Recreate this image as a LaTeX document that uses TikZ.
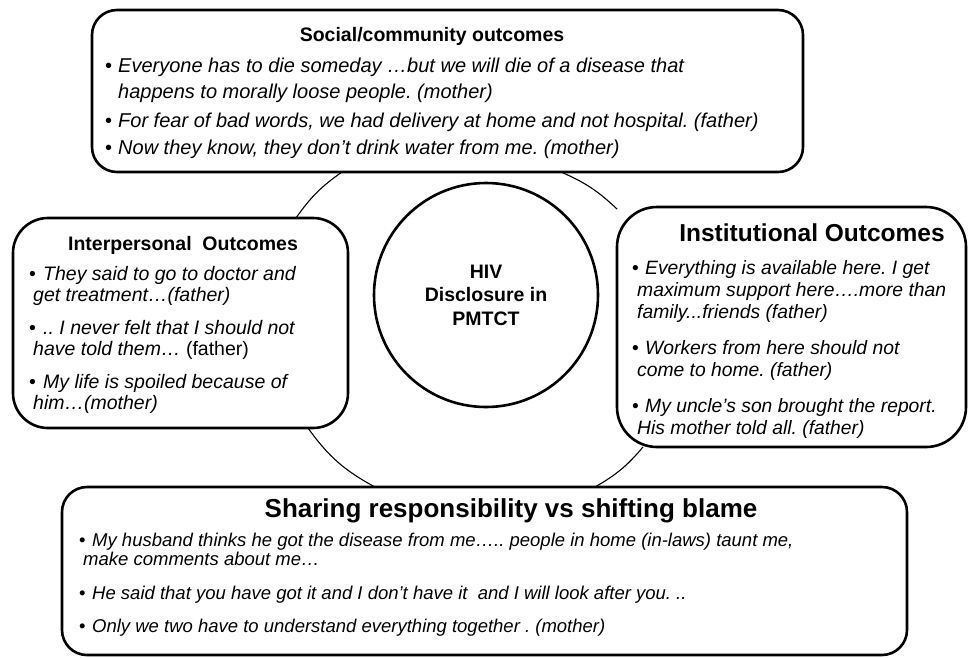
\documentclass[tikz,border=0pt]{standalone}
\usepackage{fontspec}
\setmainfont{Liberation Sans}
\frenchspacing
\begin{document}
\begin{tikzpicture}[x=1pt,y=-1pt,
  box/.style={draw=black, line width=2.6pt, rounded corners=#1, fill=white, inner sep=0pt},
  hub/.style={draw=black, circle, line width=2.6pt, minimum size=224pt, inner sep=0pt, fill=white},
  link/.style={draw=black, line width=1.1pt},
  head/.style={inner sep=0pt, anchor=base, font=\bfseries\fontsize{#1}{#1}\selectfont},
  body/.style={inner sep=0pt, anchor=north west, align=left},
]
\useasboundingbox[fill=white] (0,0) rectangle (968,657);

% theme boxes and the central hub
\node[box=25pt, minimum width=711pt, minimum height=162pt] (social) at (447.5,91) {};
\node[box=35pt, minimum width=335pt, minimum height=210pt] (inter) at (180.5,323) {};
\node[box=40pt, minimum width=349pt, minimum height=240pt] (inst) at (791.5,327) {};
\node[box=25pt, minimum width=845pt, minimum height=168pt] (share) at (484.5,571) {};
\node[hub] (hiv) at (486,295) {};

% arcs of the ring joining the boxes
\coordinate (tlA) at (342,172);
\coordinate (tlB) at (296,218);
\coordinate (trA) at (561,172);
\coordinate (trB) at (617,209);
\coordinate (blA) at (308,428);
\coordinate (blB) at (375,487);
\coordinate (brA) at (643,447);
\coordinate (brB) at (595,487);
\draw[link] (tlA) to[bend right=10] (tlB);
\draw[link] (trA) to[bend left=10] (trB);
\draw[link] (blA) to[bend right=13] (blB);
\draw[link] (brA) to[bend left=10] (brB);

% hub label
\node[inner sep=0pt, align=center, font=\bfseries\fontsize{19.5}{23.5}\selectfont] (hivtext) at (hiv.center) {HIV\\Disclosure in\\PMTCT};

% social / community
\node[head=19.5] (socialhead) at (432,41) {Social/community outcomes};
\node[body, font=\fontsize{20}{25.5}\selectfont] (socialtext) at (105,58) {%
\makebox[13pt][l]{•}\textit{Everyone has to die someday …but we will die of a disease that}\\
\hspace*{13pt}\textit{happens to morally loose people. (mother)}\\[4pt]
\makebox[13pt][l]{•}\textit{For fear of bad words, we had delivery at home and not hospital. (father)}\\[1pt]
\makebox[13pt][l]{•}\textit{Now they know, they don’t drink water from me. (mother)}};

% interpersonal
\node[head=19.5] (interhead) at (183,250) {Interpersonal\ \ Outcomes};
\node[body, font=\fontsize{19.5}{21}\selectfont] (intertext) at (29,266) {%
\makebox[14pt][l]{•}\textit{They said to go to doctor and}\\
\hspace*{4pt}\textit{get treatment…(father)}\\[12pt]
\makebox[14pt][l]{•}\textit{.. I never felt that I should not}\\
\hspace*{4pt}\textit{have told them…} (father)\\[12pt]
\makebox[14pt][l]{•}\textit{My life is spoiled because of}\\
\hspace*{4pt}\textit{him…(mother)}};

% institutional
\node[head=24.5] (insthead) at (812,241) {Institutional Outcomes};
\node[body, font=\fontsize{19.3}{22}\selectfont] (insttext) at (632,260) {%
\makebox[13pt][l]{•}\textit{Everything is available here. I get}\\
\hspace*{5pt}\textit{maximum support here….more than}\\
\hspace*{5pt}\textit{family...friends (father)}\\[14pt]
\makebox[13pt][l]{•}\textit{Workers from here should not}\\
\hspace*{5pt}\textit{come to home. (father)}\\[14pt]
\makebox[13pt][l]{•}\textit{My uncle’s son brought the report.}\\
\hspace*{5pt}\textit{His mother told all. (father)}};

% shared responsibility
\node[head=26] (sharehead) at (511,517) {Sharing responsibility vs shifting blame};
\node[body, font=\fontsize{18.5}{19}\selectfont] (sharetext) at (79,533) {%
\makebox[13pt][l]{•}\textit{My husband thinks he got the disease from me….. people in home (in-laws) taunt me,}\\
\hspace*{4pt}\textit{make comments about me…}\\[15pt]
\makebox[13pt][l]{•}\textit{He said that you have got it and I don’t have it\ \ and I will look after you. ..}\\[14pt]
\makebox[13pt][l]{•}\textit{Only we two have to understand everything together . (mother)}};
\end{tikzpicture}
\end{document}
